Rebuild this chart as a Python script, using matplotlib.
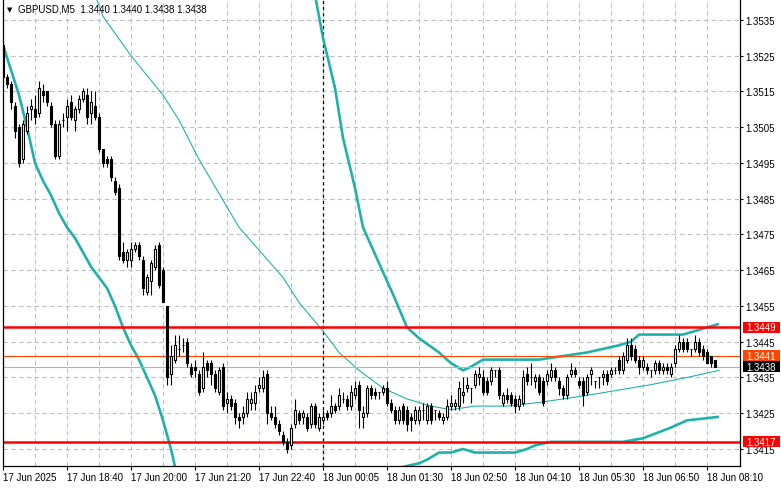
import matplotlib
matplotlib.use("Agg")
import matplotlib.pyplot as plt
from matplotlib.patches import Rectangle

# GBPUSD M5 candles, bar 0 = 17 Jun 17:20
opens = [
    1.3528, 1.3519, 1.3517, 1.3511, 1.3505, 1.3496, 1.3504, 1.3510, 1.3510, 1.3509,
    1.3515, 1.3515, 1.3511, 1.3506, 1.3497, 1.3507, 1.3508, 1.3512, 1.3507, 1.3510,
    1.3513, 1.3514, 1.3509, 1.3511, 1.3508, 1.3499, 1.3496, 1.3496, 1.3490, 1.3488,
    1.3470, 1.3468, 1.3468, 1.3471, 1.3472, 1.3468, 1.3459, 1.3462, 1.3466, 1.3472,
    1.3465, 1.3455, 1.3436, 1.3440, 1.3443, 1.3444, 1.3445, 1.3438, 1.3438, 1.3436,
    1.3432, 1.3439, 1.3439, 1.3436, 1.3431, 1.3438, 1.3428, 1.3429, 1.3428, 1.3424,
    1.3424, 1.3425, 1.3428, 1.3428, 1.3432, 1.3432, 1.3436, 1.3425, 1.3424, 1.3422,
    1.3419, 1.3417, 1.3416, 1.3422, 1.3425, 1.3424, 1.3424, 1.3422, 1.3427, 1.3421,
    1.3423, 1.3425, 1.3425, 1.3427, 1.3427, 1.3429, 1.3429, 1.3427, 1.3430, 1.3433,
    1.3424, 1.3425, 1.3432, 1.3431, 1.3431, 1.3431, 1.3432, 1.3428, 1.3426, 1.3423,
    1.3427, 1.3426, 1.3424, 1.3423, 1.3423, 1.3426, 1.3423, 1.3427, 1.3426, 1.3425,
    1.3423, 1.3424, 1.3427, 1.3427, 1.3427, 1.3430, 1.3432, 1.3432, 1.3433, 1.3435,
    1.3435, 1.3434, 1.3434, 1.3437, 1.3437, 1.3428, 1.3430, 1.3430, 1.3429, 1.3427,
    1.3428, 1.3436, 1.3435, 1.3434, 1.3435, 1.3434, 1.3434, 1.3435, 1.3437, 1.3434,
    1.3432, 1.3430, 1.3436, 1.3437, 1.3434, 1.3434, 1.3431, 1.3436, 1.3434, 1.3435,
    1.3435, 1.3436, 1.3436, 1.3437, 1.3440, 1.3437, 1.3440, 1.3444, 1.3443, 1.3440,
    1.3438, 1.3438, 1.3437, 1.3437, 1.3439, 1.3437, 1.3438, 1.3436, 1.3439, 1.3443,
    1.3445, 1.3445, 1.3443, 1.3443, 1.3445, 1.3443, 1.3442, 1.3441, 1.3440,
]
highs = [
    1.3529, 1.3520, 1.3518, 1.3512, 1.3506, 1.3507, 1.3511, 1.3513, 1.3514, 1.3518,
    1.3517, 1.3515, 1.3512, 1.3507, 1.3507, 1.3509, 1.3513, 1.3514, 1.3511, 1.3514,
    1.3516, 1.3516, 1.3515, 1.3515, 1.3509, 1.3499, 1.3497, 1.3497, 1.3491, 1.3489,
    1.3473, 1.3471, 1.3473, 1.3473, 1.3473, 1.3469, 1.3464, 1.3468, 1.3472, 1.3473,
    1.3466, 1.3455, 1.3444, 1.3447, 1.3447, 1.3446, 1.3446, 1.3439, 1.3440, 1.3437,
    1.3442, 1.3440, 1.3440, 1.3437, 1.3438, 1.3439, 1.3431, 1.3430, 1.3429, 1.3425,
    1.3427, 1.3431, 1.3431, 1.3433, 1.3435, 1.3437, 1.3437, 1.3427, 1.3427, 1.3423,
    1.3420, 1.3418, 1.3422, 1.3429, 1.3426, 1.3426, 1.3425, 1.3428, 1.3428, 1.3425,
    1.3426, 1.3426, 1.3430, 1.3428, 1.3432, 1.3431, 1.3430, 1.3433, 1.3434, 1.3434,
    1.3427, 1.3433, 1.3433, 1.3432, 1.3431, 1.3433, 1.3434, 1.3429, 1.3427, 1.3427,
    1.3428, 1.3427, 1.3425, 1.3427, 1.3427, 1.3428, 1.3428, 1.3428, 1.3426, 1.3426,
    1.3425, 1.3429, 1.3430, 1.3429, 1.3434, 1.3435, 1.3435, 1.3432, 1.3437, 1.3438,
    1.3437, 1.3435, 1.3438, 1.3437, 1.3438, 1.3431, 1.3432, 1.3431, 1.3430, 1.3430,
    1.3437, 1.3438, 1.3439, 1.3436, 1.3436, 1.3435, 1.3437, 1.3439, 1.3438, 1.3435,
    1.3433, 1.3436, 1.3439, 1.3438, 1.3435, 1.3435, 1.3436, 1.3438, 1.3434, 1.3435,
    1.3437, 1.3437, 1.3438, 1.3438, 1.3441, 1.3442, 1.3446, 1.3446, 1.3444, 1.3441,
    1.3441, 1.3439, 1.3437, 1.3440, 1.3440, 1.3439, 1.3439, 1.3439, 1.3444, 1.3447,
    1.3446, 1.3446, 1.3443, 1.3447, 1.3446, 1.3444, 1.3443, 1.3441, 1.3440,
]
lows = [
    1.3518, 1.3516, 1.3510, 1.3502, 1.3494, 1.3495, 1.3503, 1.3507, 1.3506, 1.3508,
    1.3512, 1.3511, 1.3505, 1.3496, 1.3496, 1.3505, 1.3504, 1.3507, 1.3504, 1.3509,
    1.3512, 1.3506, 1.3506, 1.3507, 1.3498, 1.3494, 1.3494, 1.3490, 1.3486, 1.3468,
    1.3467, 1.3466, 1.3466, 1.3470, 1.3468, 1.3458, 1.3458, 1.3458, 1.3465, 1.3460,
    1.3456, 1.3433, 1.3433, 1.3439, 1.3441, 1.3442, 1.3438, 1.3435, 1.3435, 1.3430,
    1.3431, 1.3435, 1.3433, 1.3431, 1.3430, 1.3426, 1.3425, 1.3426, 1.3422, 1.3421,
    1.3422, 1.3424, 1.3426, 1.3426, 1.3431, 1.3431, 1.3422, 1.3423, 1.3421, 1.3419,
    1.3416, 1.3414, 1.3415, 1.3421, 1.3422, 1.3422, 1.3420, 1.3421, 1.3421, 1.3420,
    1.3422, 1.3423, 1.3424, 1.3425, 1.3426, 1.3428, 1.3426, 1.3426, 1.3429, 1.3421,
    1.3421, 1.3424, 1.3429, 1.3429, 1.3429, 1.3430, 1.3427, 1.3425, 1.3422, 1.3422,
    1.3422, 1.3420, 1.3420, 1.3422, 1.3422, 1.3423, 1.3422, 1.3422, 1.3423, 1.3423,
    1.3422, 1.3423, 1.3426, 1.3426, 1.3426, 1.3428, 1.3431, 1.3428, 1.3432, 1.3433,
    1.3430, 1.3430, 1.3433, 1.3435, 1.3429, 1.3427, 1.3428, 1.3427, 1.3425, 1.3426,
    1.3427, 1.3433, 1.3433, 1.3432, 1.3430, 1.3427, 1.3433, 1.3434, 1.3434, 1.3430,
    1.3429, 1.3429, 1.3435, 1.3435, 1.3432, 1.3427, 1.3430, 1.3433, 1.3432, 1.3432,
    1.3433, 1.3433, 1.3435, 1.3436, 1.3436, 1.3436, 1.3439, 1.3440, 1.3439, 1.3436,
    1.3437, 1.3436, 1.3435, 1.3436, 1.3436, 1.3436, 1.3436, 1.3435, 1.3438, 1.3442,
    1.3442, 1.3442, 1.3441, 1.3442, 1.3441, 1.3440, 1.3439, 1.3438, 1.3438,
]
closes = [
    1.3519, 1.3517, 1.3512, 1.3504, 1.3495, 1.3506, 1.3509, 1.3511, 1.3508, 1.3516,
    1.3514, 1.3512, 1.3506, 1.3497, 1.3506, 1.3507, 1.3511, 1.3508, 1.3510, 1.3513,
    1.3515, 1.3508, 1.3512, 1.3508, 1.3499, 1.3495, 1.3495, 1.3491, 1.3487, 1.3469,
    1.3468, 1.3470, 1.3471, 1.3472, 1.3469, 1.3460, 1.3463, 1.3467, 1.3471, 1.3461,
    1.3456, 1.3435, 1.3441, 1.3444, 1.3443, 1.3444, 1.3439, 1.3436, 1.3437, 1.3431,
    1.3438, 1.3437, 1.3436, 1.3432, 1.3437, 1.3427, 1.3429, 1.3427, 1.3424, 1.3423,
    1.3425, 1.3429, 1.3429, 1.3431, 1.3433, 1.3435, 1.3425, 1.3424, 1.3422, 1.3420,
    1.3417, 1.3415, 1.3421, 1.3426, 1.3423, 1.3425, 1.3421, 1.3427, 1.3422, 1.3424,
    1.3424, 1.3424, 1.3427, 1.3426, 1.3430, 1.3429, 1.3427, 1.3431, 1.3432, 1.3426,
    1.3425, 1.3432, 1.3430, 1.3430, 1.3431, 1.3432, 1.3428, 1.3426, 1.3423, 1.3426,
    1.3423, 1.3422, 1.3423, 1.3426, 1.3426, 1.3426, 1.3427, 1.3423, 1.3426, 1.3424,
    1.3424, 1.3427, 1.3428, 1.3428, 1.3432, 1.3431, 1.3433, 1.3432, 1.3436, 1.3436,
    1.3431, 1.3431, 1.3437, 1.3437, 1.3430, 1.3430, 1.3429, 1.3428, 1.3427, 1.3429,
    1.3435, 1.3434, 1.3435, 1.3435, 1.3431, 1.3428, 1.3436, 1.3437, 1.3435, 1.3432,
    1.3430, 1.3435, 1.3437, 1.3436, 1.3433, 1.3430, 1.3435, 1.3437, 1.3434, 1.3435,
    1.3436, 1.3434, 1.3437, 1.3437, 1.3437, 1.3441, 1.3444, 1.3441, 1.3440, 1.3438,
    1.3440, 1.3437, 1.3437, 1.3439, 1.3437, 1.3438, 1.3437, 1.3438, 1.3443, 1.3445,
    1.3443, 1.3443, 1.3443, 1.3445, 1.3442, 1.3441, 1.3439, 1.3439, 1.3438,
]

# indicator lines (bar index, price)
lower_a_bars = [0, 2, 4, 6, 8, 10, 12, 14, 16, 18, 20, 22, 24, 26, 28, 30, 32, 34, 36, 38, 40, 42, 43]
lower_a = [1.3528, 1.3521, 1.3514, 1.3505, 1.3495, 1.3490, 1.3486, 1.3481, 1.3477, 1.3474, 1.3470, 1.3466,
           1.3463, 1.3460, 1.3455, 1.3449, 1.3444, 1.3440, 1.3435, 1.3430, 1.3423, 1.3415, 1.3410]
upper_b_bars = [78, 80, 83, 85, 88, 90, 94, 98, 101, 104, 109, 112, 115, 117, 120, 123, 134, 146, 154, 157,
                159, 170, 176, 179]
upper_b = [1.3542, 1.3530, 1.3516, 1.3502, 1.3488, 1.3477, 1.3467, 1.3457, 1.3449, 1.3446, 1.3442, 1.3439,
           1.3437, 1.3438, 1.3440, 1.3440, 1.3440, 1.3442, 1.3444, 1.3445, 1.3447, 1.3447, 1.3449, 1.3450]
lower_b_bars = [100, 104, 106, 109, 112, 115, 118, 123, 128, 131, 133, 137, 147, 155, 160, 167, 171, 179]
lower_b = [1.3410, 1.3411, 1.3412, 1.3414, 1.3414, 1.3415, 1.3414, 1.3414, 1.3414, 1.3415, 1.3416, 1.3417,
           1.3417, 1.3417, 1.3418, 1.3421, 1.3423, 1.3424]
ma_bars = [23, 25, 32, 40, 44, 49, 59, 70, 74, 80, 84, 89, 95, 101, 107, 112, 118, 126, 134, 146, 162, 171, 179]
ma = [1.3542, 1.3536, 1.3525, 1.3514, 1.3507, 1.3496, 1.3477, 1.3463, 1.3456, 1.3448, 1.3442, 1.3437,
      1.3432, 1.3429, 1.3427, 1.3426, 1.3427, 1.3427, 1.3428, 1.3430, 1.3433, 1.3435, 1.3437]

red_levels = [1.3449, 1.3417]
ask_price = 1.3441
bid_price = 1.3438

time_ticks = [0, 16, 32, 48, 64, 80, 96, 112, 128, 144, 160, 176]
time_labels = ['17 Jun 2025', '17 Jun 18:40', '17 Jun 20:00', '17 Jun 21:20', '17 Jun 22:40',
               '18 Jun 00:05', '18 Jun 01:30', '18 Jun 02:50', '18 Jun 04:10', '18 Jun 05:30',
               '18 Jun 06:50', '18 Jun 08:10']
price_ticks = [1.3535, 1.3525, 1.3515, 1.3505, 1.3495, 1.3485, 1.3475, 1.3465, 1.3455, 1.3445,
               1.3435, 1.3425, 1.3415]
day_break = 80

plt.rcParams['font.family'] = ['Liberation Sans', 'DejaVu Sans']
TEAL = '#20B2AA'

fig = plt.figure(figsize=(7.81, 4.89), dpi=100)
ax = fig.add_axes([3 / 781, 22 / 489, 737 / 781, 467 / 489])
ax.set_xlim(0, 184.25)
ax.set_ylim(1.341024, 1.354087)
ax.set_axisbelow(True)

# grid
ax.set_xticks(range(0, 184, 8), minor=True)
ax.grid(True, which='both', axis='x', color='#C0C0C0', lw=0.8, ls=(0, (4, 3)))
ax.grid(True, which='major', axis='y', color='#C0C0C0', lw=0.8, ls=(0, (4, 3)))
ax.axvline(day_break, color='black', lw=0.9, ls=(0, (2.5, 2.5)), zorder=1)

# indicator lines
ax.plot(lower_a_bars, lower_a, color=TEAL, lw=1.9, zorder=2, solid_capstyle='butt')
ax.plot(upper_b_bars, upper_b, color=TEAL, lw=1.9, zorder=2, solid_capstyle='butt')
ax.plot(lower_b_bars, lower_b, color=TEAL, lw=1.9, zorder=2, solid_capstyle='butt')
ax.plot(ma_bars, ma, color=TEAL, lw=0.8, zorder=2)

# price levels
for lv in red_levels:
    ax.axhline(lv, color='red', lw=1.8, zorder=2)
ax.axhline(ask_price, color='#FF4500', lw=0.8, zorder=2)
ax.axhline(bid_price, color='#B4B4B4', lw=0.8, zorder=2)

# candles
idx = list(range(len(closes)))
ax.vlines(idx, lows, highs, color='black', lw=0.8, zorder=3)
bottoms = [min(o, c) for o, c in zip(opens, closes)]
heights = [abs(c - o) for o, c in zip(opens, closes)]
faces = ['black' if c < o else 'white' for o, c in zip(opens, closes)]
ax.bar(idx, heights, bottom=bottoms, width=0.5, color=faces, edgecolor='black', linewidth=0.8, zorder=4)

# axes styling
ax.spines['top'].set_visible(False)
for s in ['left', 'right', 'bottom']:
    ax.spines[s].set_linewidth(0.9)

ax.set_xticks(time_ticks)
ax.set_xticklabels(time_labels)
for lab in ax.get_xticklabels():
    lab.set_horizontalalignment('left')
ax.tick_params(axis='x', which='major', length=3, width=0.8, pad=1.5, labelsize=7)
ax.tick_params(axis='x', which='minor', length=0)

ax.yaxis.tick_right()
ax.set_yticks(price_ticks)
ax.set_yticklabels([f'{p:.4f}' for p in price_ticks])
ax.tick_params(axis='y', length=2.5, width=0.8, pad=1.2, labelsize=7)

# price tags on the right scale
tr = ax.get_yaxis_transform()
tag_h = 0.00031
for price, fc in [(red_levels[0], 'red'), (ask_price, '#FF4500'), (bid_price, 'black'), (red_levels[1], 'red')]:
    ax.add_patch(Rectangle((1.0041, price - tag_h / 2), 0.0502, tag_h, transform=tr,
                           facecolor=fc, edgecolor='none', clip_on=False, zorder=10))
    ax.text(1.0085, price, f'{price:.4f}', transform=tr, color='white', fontsize=7,
            va='center', ha='left', clip_on=False, zorder=11)

# header
fig.text(7 / 781, 1 - 10 / 489, '▼', fontsize=5, va='center', ha='left', family=['DejaVu Sans'])
fig.text(18 / 781, 1 - 10 / 489, 'GBPUSD,M5  1.3440 1.3440 1.3438 1.3438', fontsize=7, va='center', ha='left')

fig.savefig('out.png', dpi=100)
